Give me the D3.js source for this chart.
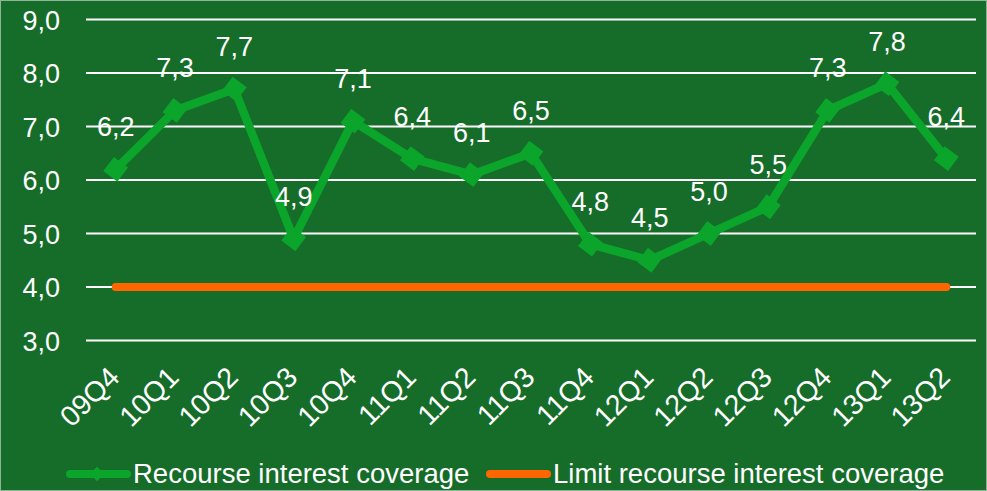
<!DOCTYPE html>
<html>
<head>
<meta charset="utf-8">
<script src="https://cdn.jsdelivr.net/npm/d3@7"></script>
<style>
  html, body { margin: 0; padding: 0; background: #166c29; }
  svg { display: block; font-family: "Liberation Sans", Arial, sans-serif; }
</style>
</head>
<body>
<script>
// data
var quarters = ['09Q4', '10Q1', '10Q2', '10Q3', '10Q4', '11Q1', '11Q2', '11Q3',
  '11Q4', '12Q1', '12Q2', '12Q3', '12Q4', '13Q1', '13Q2'];
var coverage = [6.2, 7.3, 7.7, 4.9, 7.1, 6.4, 6.1, 6.5, 4.8, 4.5, 5.0, 5.5, 7.3, 7.8, 6.4];
var limit = [4, 4, 4, 4, 4, 4, 4, 4, 4, 4, 4, 4, 4, 4, 4];
var yTicks = [3, 4, 5, 6, 7, 8, 9];
var seriesNames = ['Recourse interest coverage', 'Limit recourse interest coverage'];

var width = 987, height = 491;
var bg = '#166c29', green = '#0ba52b', orange = '#ff6600';
var fontSize = '27px';

var svg = d3.select('body').append('svg')
  .attr('width', width)
  .attr('height', height);

svg.append('rect')
  .attr('x', 0.5).attr('y', 0.5)
  .attr('width', width - 1).attr('height', height - 1)
  .attr('fill', bg)
  .attr('stroke', '#8fb598')
  .attr('stroke-width', 1);

var x = d3.scalePoint()
  .domain(quarters)
  .range([86, 976])
  .padding(0.5);

var y = d3.scaleLinear()
  .domain([3, 9])
  .range([340.5, 19.5]);

var fmt = function(v) { return d3.format('.1f')(v).replace('.', ','); };

// gridlines
svg.append('g').selectAll('line')
  .data(yTicks)
  .enter().append('line')
  .attr('x1', 86).attr('x2', 976)
  .attr('y1', function(d) { return y(d); })
  .attr('y2', function(d) { return y(d); })
  .attr('stroke', '#ffffff')
  .attr('stroke-width', 2);

// y axis
var yAxis = svg.append('g')
  .attr('transform', 'translate(60,0)')
  .call(d3.axisLeft(y).tickValues(yTicks).tickSize(0).tickPadding(0).tickFormat(fmt));
yAxis.select('.domain').remove();
yAxis.selectAll('text')
  .attr('fill', '#ffffff')
  .style('font-size', fontSize)
  .attr('dy', '0.36em')
  .style('font-family', '"Liberation Sans", Arial, sans-serif');

// x axis
var xAxis = svg.append('g')
  .attr('transform', 'translate(0,352)')
  .call(d3.axisBottom(x).tickSize(0).tickPadding(0));
xAxis.select('.domain').remove();
xAxis.selectAll('text')
  .attr('fill', '#ffffff')
  .style('font-size', '28.5px')
  .style('font-family', '"Liberation Sans", Arial, sans-serif')
  .attr('text-anchor', 'end')
  .attr('dy', '0')
  .attr('y', 0)
  .attr('transform', 'translate(5,27) rotate(-45)');

// limit line
var line = d3.line()
  .x(function(d, i) { return x(quarters[i]); })
  .y(function(d) { return y(d); });

svg.append('path')
  .datum(limit)
  .attr('d', line)
  .attr('fill', 'none')
  .attr('stroke', orange)
  .attr('stroke-width', 8)
  .attr('stroke-linecap', 'round');

// coverage line
svg.append('path')
  .datum(coverage)
  .attr('d', line)
  .attr('fill', 'none')
  .attr('stroke', green)
  .attr('stroke-width', 8.5)
  .attr('stroke-linejoin', 'round');

var diamond = d3.symbol().type(d3.symbolDiamond2).size(400);

svg.append('g').selectAll('path')
  .data(coverage)
  .enter().append('path')
  .attr('d', diamond)
  .attr('transform', function(d, i) { return 'translate(' + x(quarters[i]) + ',' + y(d) + ') rotate(-8)'; })
  .attr('fill', green);

// data labels
svg.append('g').selectAll('text')
  .data(coverage)
  .enter().append('text')
  .attr('x', function(d, i) { return x(quarters[i]); })
  .attr('y', function(d) { return y(d) - 33; })
  .attr('text-anchor', 'middle')
  .attr('fill', '#ffffff')
  .style('font-size', fontSize)
  .text(fmt);

// legend
var legend = svg.append('g').attr('transform', 'translate(0,474)');

legend.append('line')
  .attr('x1', 70).attr('x2', 127)
  .attr('stroke', green).attr('stroke-width', 8).attr('stroke-linecap', 'round');
legend.append('path')
  .attr('d', d3.symbol().type(d3.symbolDiamond2).size(130))
  .attr('transform', 'translate(97,0)')
  .attr('fill', green);
legend.append('text')
  .attr('x', 133).attr('y', 9)
  .attr('fill', '#ffffff')
  .style('font-size', '27.5px')
  .text(seriesNames[0]);

legend.append('line')
  .attr('x1', 490).attr('x2', 547)
  .attr('stroke', orange).attr('stroke-width', 8).attr('stroke-linecap', 'round');
legend.append('text')
  .attr('x', 553).attr('y', 9)
  .attr('fill', '#ffffff')
  .style('font-size', '27.5px')
  .text(seriesNames[1]);
</script>
</body>
</html>
